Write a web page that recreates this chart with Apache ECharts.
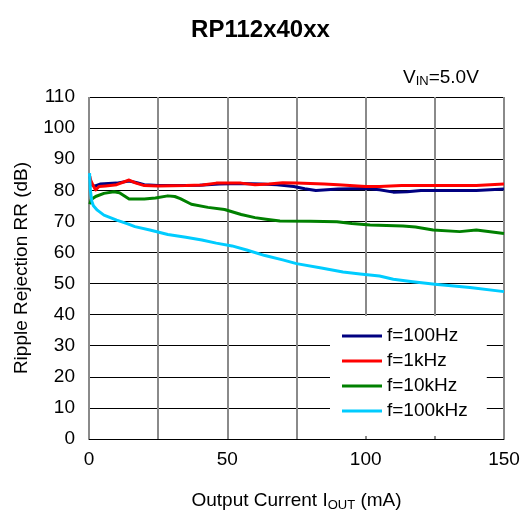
<!DOCTYPE html>
<html>
<head>
<meta charset="utf-8">
<script src="https://cdn.jsdelivr.net/npm/echarts@6/dist/echarts.min.js"></script>
<style>html,body{margin:0;padding:0;background:#fff}#c{width:521px;height:513px}</style>
</head>
<body>
<div id="c"></div>
<script>
const seriesNames = ['f=100Hz', 'f=1kHz', 'f=10kHz', 'f=100kHz'];
const xTicks = [0, 50, 100, 150];

const x100Hz = [0.5, 1, 2, 4, 7, 10, 14.5, 17, 20, 25, 30, 40, 47, 55, 62, 68, 74, 78, 82, 90, 100, 105, 110, 115, 120, 130, 140, 150];
const y100Hz = [82, 81.5, 81.3, 82, 82.2, 82.3, 83, 82.5, 81.8, 81.5, 81.5, 81.6, 82, 82.2, 82, 81.8, 81.2, 80.5, 79.9, 80.4, 80.6, 80.2, 79.4, 79.5, 79.9, 79.9, 79.9, 80.4];

const x1kHz = [0.3, 0.6, 1.5, 2.4, 3.6, 6, 10, 14.5, 17, 20, 25, 35, 41, 46, 55, 60, 65, 70, 75, 85, 90, 100, 105, 113, 125, 140, 150];
const y1kHz = [84.5, 83.3, 81.5, 80.1, 81.2, 81.4, 81.8, 83.3, 82.3, 81.5, 81.4, 81.5, 81.7, 82.3, 82.3, 81.8, 82, 82.4, 82.3, 82, 81.8, 81.2, 81.2, 81.5, 81.5, 81.5, 82];

const x10kHz = [0.3, 0.8, 2.4, 5.4, 9, 11, 14.5, 20, 24, 28.5, 31, 33, 37, 43, 49, 55, 60, 64, 69, 80, 89.6, 95, 101.6, 113.5, 118, 124.4, 134, 140, 150];
const y10kHz = [75.5, 77, 78, 79, 79.5, 79.2, 77.2, 77.2, 77.5, 78.2, 78, 77.3, 75.5, 74.5, 73.8, 72.2, 71.2, 70.7, 70.1, 70, 69.9, 69.3, 68.8, 68.5, 68.2, 67.2, 66.7, 67.2, 66.1];

const x100kHz = [0.2, 0.5, 1, 1.6, 3, 5.4, 10, 14, 16.6, 22, 28.5, 35, 40.8, 46, 51.7, 57, 63.6, 70, 75, 84, 91.8, 98, 105, 110, 117, 125, 137.7, 150];
const y100kHz = [85.5, 80, 76.5, 75, 73.6, 72, 70.4, 69.2, 68.3, 67.2, 65.8, 64.9, 64, 63, 62.1, 60.8, 59, 57.6, 56.4, 55, 53.7, 53.1, 52.4, 51.4, 50.6, 49.8, 48.7, 47.4];

const colors = ['#000080', '#ff0000', '#008000', '#00ccff'];
const xs = [x100Hz, x1kHz, x10kHz, x100kHz];
const ys = [y100Hz, y1kHz, y10kHz, y100kHz];

const FONT = '"Liberation Sans", Arial, sans-serif';
const FS = 19;
const chart = echarts.init(document.getElementById('c'), null, {renderer: 'canvas'});

const series = seriesNames.map((n, i) => ({
  name: n,
  type: 'line',
  showSymbol: false,
  symbol: 'none',
  data: xs[i].map((x, j) => [x, ys[i][j]]),
  lineStyle: {color: colors[i], width: 3, join: 'round'},
  itemStyle: {color: colors[i]},
  emphasis: {disabled: true},
  animation: false
}));

chart.setOption({
  animation: false,
  title: {
    text: 'RP112x40xx',
    left: 'center',
    top: 13,
    textStyle: {fontFamily: FONT, fontSize: 24, fontWeight: 'bold', color: '#000'}
  },
  grid: {left: 89, right: 17, top: 97, bottom: 74, containLabel: false, outerBoundsMode: 'none'},
  legend: {
    orient: 'vertical',
    left: 330,
    top: 316,
    padding: [9, 19, 14, 12],
    backgroundColor: '#ffffff',
    itemWidth: 40,
    itemHeight: 3,
    itemGap: 3,
    icon: 'rect',
    textStyle: {fontFamily: FONT, fontSize: FS, color: '#000', lineHeight: 22},
    data: seriesNames
  },
  xAxis: {
    type: 'value',
    min: 0, max: 150, interval: 25,
    name: 'Output Current I{sub|OUT} (mA)',
    nameLocation: 'middle',
    nameGap: 51,
    nameTextStyle: {
      fontFamily: FONT, fontSize: FS, color: '#000',
      rich: {sub: {fontFamily: FONT, fontSize: 13, color: '#000', padding: [9, 0, 0, 0]}}
    },
    axisLine: {show: true, lineStyle: {color: '#000', width: 1}},
    axisTick: {show: false},
    axisLabel: {
      fontFamily: FONT, fontSize: FS, color: '#000', margin: 11,
      formatter: v => (xTicks.indexOf(v) >= 0 ? String(v) : '')
    },
    splitLine: {show: true, lineStyle: {color: '#8a8a8a', width: 2}}
  },
  yAxis: {
    type: 'value',
    min: 0, max: 110, interval: 10,
    name: 'Ripple Rejection RR (dB)',
    nameLocation: 'middle',
    nameGap: 58,
    nameTextStyle: {fontFamily: FONT, fontSize: FS, color: '#000'},
    axisLine: {show: false},
    axisTick: {show: false},
    axisLabel: {fontFamily: FONT, fontSize: FS, color: '#000', margin: 14},
    splitLine: {show: true, lineStyle: {color: '#000', width: 1}}
  },
  graphic: [
    {
      type: 'text',
      left: 403, top: 68,
      style: {
        text: 'V{sub|IN}=5.0V',
        font: FS + 'px ' + FONT,
        fill: '#000',
        rich: {sub: {font: '13px ' + FONT, fill: '#000', padding: [7, 0, 0, 0]}}
      }
    },
    {
      type: 'line',
      z: 1,
      shape: {x1: 89, y1: 97, x2: 89, y2: 439},
      style: {stroke: '#8a8a8a', lineWidth: 2}
    }
  ],
  series: series
});
</script>
</body>
</html>
